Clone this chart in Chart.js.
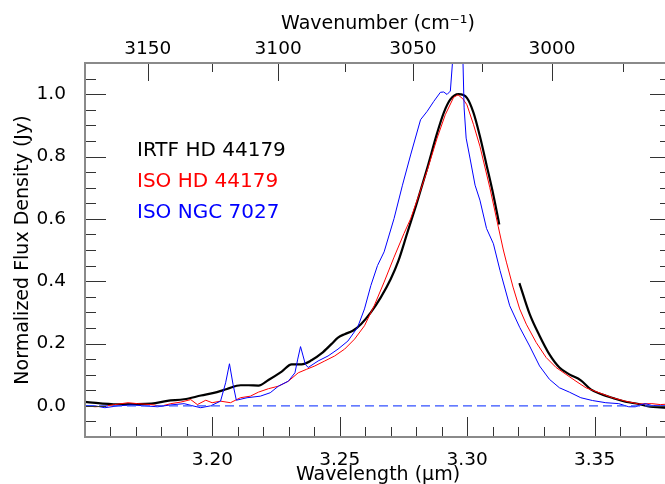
<!DOCTYPE html>
<html>
<head>
<meta charset="utf-8">
<script src="https://cdn.jsdelivr.net/npm/chart.js@4/dist/chart.umd.min.js"></script>
<style>
  html, body { margin: 0; padding: 0; background: #fff; overflow: hidden; }
  #wrap { width: 675px; height: 484px; }
</style>
</head>
<body>
<div id="wrap"><canvas id="spec" width="675" height="484"></canvas></div>
<script>
// IRTF HD 44179 (thick black, gap near 3.316 um)
const irtfWave = [3.1500,3.1628,3.1761,3.1823,3.1889,3.1955,3.2018,3.2057,3.2111,3.2142,3.2181,3.2220,3.2272,3.2311,3.2350,3.2389,3.2428,3.2467,3.2493,3.2519,3.2551,3.2583,3.2622,3.2661,3.2700,3.2730,3.2765,3.2804,3.2843,3.2882,3.2908,3.2934,3.2966,3.2999,3.3025,3.3050,3.3076,3.3103,3.3126,3.3165,3.3205,3.3245,3.3284,3.3323,3.3362,3.3401,3.3446,3.3485,3.3531,3.3576,3.3621,3.3673,3.3719,3.3758,3.3800];
const irtfFlux = [0.013,0.005,0.007,0.016,0.021,0.033,0.044,0.054,0.066,0.066,0.065,0.083,0.110,0.133,0.133,0.146,0.168,0.198,0.219,0.230,0.241,0.262,0.300,0.348,0.407,0.465,0.555,0.655,0.762,0.875,0.940,0.983,1.000,0.988,0.940,0.865,0.773,0.676,0.582,null,0.394,0.295,0.225,0.165,0.123,0.101,0.082,0.053,0.036,0.024,0.013,0.006,-0.003,-0.005,-0.007];

// ISO HD 44179 (red)
const isoWave = [3.1500,3.1539,3.1578,3.1617,3.1669,3.1707,3.1760,3.1799,3.1837,3.1876,3.1915,3.1941,3.1974,3.1999,3.2032,3.2071,3.2110,3.2149,3.2181,3.2220,3.2259,3.2298,3.2337,3.2369,3.2402,3.2441,3.2480,3.2519,3.2558,3.2597,3.2635,3.2674,3.2713,3.2752,3.2778,3.2810,3.2843,3.2882,3.2914,3.2947,3.2964,3.2983,3.2999,3.3025,3.3050,3.3089,3.3122,3.3142,3.3154,3.3180,3.3206,3.3232,3.3271,3.3310,3.3349,3.3388,3.3427,3.3466,3.3518,3.3570,3.3621,3.3673,3.3725,3.3758,3.3800];
const isoFlux = [0.001,-0.003,-0.001,0.004,0.010,0.007,0.004,-0.001,0.007,0.012,0.020,0.004,0.018,0.010,0.015,0.010,0.026,0.031,0.044,0.055,0.063,0.079,0.106,0.117,0.128,0.144,0.160,0.182,0.214,0.257,0.321,0.397,0.477,0.553,0.600,0.675,0.755,0.859,0.934,0.990,0.998,0.985,0.966,0.902,0.833,0.700,0.575,0.500,0.461,0.381,0.311,0.262,0.203,0.155,0.123,0.101,0.079,0.058,0.042,0.026,0.015,0.006,0.007,0.004,0.006];

// ISO NGC 7027 (blue)
const ngcWave = [3.1500,3.1539,3.1578,3.1630,3.1682,3.1734,3.1785,3.1837,3.1889,3.1928,3.1954,3.1993,3.2032,3.2052,3.2067,3.2081,3.2094,3.2136,3.2188,3.2227,3.2259,3.2298,3.2324,3.2335,3.2346,3.2356,3.2365,3.2376,3.2415,3.2454,3.2493,3.2532,3.2570,3.2597,3.2622,3.2648,3.2674,3.2713,3.2746,3.2778,3.2817,3.2843,3.2869,3.2895,3.2908,3.2921,3.2934,3.2944,3.2954,3.2964,3.2974,3.2983,3.2988,3.2996,3.3011,3.3031,3.3050,3.3076,3.3103,3.3129,3.3167,3.3206,3.3245,3.3284,3.3323,3.3362,3.3401,3.3446,3.3492,3.3544,3.3595,3.3634,3.3660,3.3679,3.3699,3.3725,3.3758,3.3800];
const ngcFlux = [0.001,0.000,-0.006,0.000,0.003,0.000,-0.003,0.003,0.007,-0.001,-0.006,0.000,0.015,0.074,0.135,0.069,0.018,0.026,0.031,0.042,0.063,0.079,0.106,0.150,0.190,0.160,0.133,0.123,0.144,0.160,0.182,0.208,0.252,0.311,0.386,0.450,0.494,0.601,0.708,0.805,0.918,0.945,0.977,1.006,1.007,0.999,1.010,1.120,1.400,1.600,1.400,1.120,0.956,0.859,0.795,0.708,0.660,0.569,0.520,0.434,0.321,0.252,0.192,0.128,0.085,0.058,0.044,0.026,0.017,0.010,0.007,-0.003,-0.003,0.003,0.007,0.001,0.000,0.000];

const zeroWave = [3.15, 3.38];
const zeroFlux = [0, 0];

// top axis, cm^-1 (labelled every 50)
const waveNumberTicks = [3150, 3125, 3100, 3075, 3050, 3025, 3000, 2975];
const legendNames = ['IRTF HD 44179', 'ISO HD 44179', 'ISO NGC 7027'];
const legendColors = ['#000000', '#ff0000', '#0000ff'];

const xMin = 3.15, xMax = 3.38, yMin = -0.1, yMax = 1.1;
const FONT = '"DejaVu Sans", "Liberation Sans", sans-serif';

function pts(xs, ys) {
  return xs.map((x, i) => ({x: x, y: ys[i]}));
}
function onStep(v, step) {
  const r = v / step;
  return Math.abs(r - Math.round(r)) < 1e-6;
}

Chart.defaults.font.family = FONT;
Chart.defaults.color = '#000';

const axesPlugin = {
  id: 'axesPlugin',
  afterDatasetsDraw(chart) {
    const ctx = chart.ctx, a = chart.chartArea, s = chart.scales;
    ctx.save();
    // tick marks, drawn inwards
    ctx.strokeStyle = '#333';
    ctx.lineWidth = 1;
    ctx.beginPath();
    s.x.ticks.forEach(t => {
      if (t.value <= xMin + 1e-6 || t.value >= xMax - 1e-6) return;
      const px = Math.round(s.x.getPixelForValue(t.value)) + 0.5;
      const len = onStep(t.value, 0.05) ? 20 : 10;
      ctx.moveTo(px, a.bottom);
      ctx.lineTo(px, a.bottom - len);
    });
    s.xTop.ticks.forEach(t => {
      const px = Math.round(s.xTop.getPixelForValue(t.value)) + 0.5;
      const len = Math.round(1e4 / t.value) % 50 === 0 ? 18 : 9;
      ctx.moveTo(px, a.top);
      ctx.lineTo(px, a.top + len);
    });
    s.y.ticks.forEach(t => {
      if (t.value <= yMin + 1e-6 || t.value >= yMax - 1e-6) return;
      const py = Math.round(s.y.getPixelForValue(t.value)) + 0.5;
      const len = onStep(t.value, 0.2) ? 21 : 11;
      ctx.moveTo(a.left, py);
      ctx.lineTo(a.left + len, py);
      ctx.moveTo(a.right, py);
      ctx.lineTo(a.right - len, py);
    });
    ctx.stroke();
    // frame
    ctx.strokeStyle = '#8a8a8a';
    ctx.lineWidth = 2;
    ctx.strokeRect(a.left, a.top, a.right - a.left, a.bottom - a.top);
    // text legend
    ctx.font = '20px ' + FONT;
    ctx.textBaseline = 'middle';
    ctx.textAlign = 'left';
    legendNames.forEach((name, i) => {
      ctx.fillStyle = legendColors[i];
      ctx.fillText(name, a.left + 52, a.top + 88 + i * 31);
    });
    ctx.restore();
  }
};

new Chart(document.getElementById('spec'), {
  type: 'line',
  data: {
    datasets: [
      {
        label: 'zero',
        data: pts(zeroWave, zeroFlux),
        borderColor: 'rgb(50,80,255)',
        borderWidth: 1.3,
        borderDash: [9, 5]
      },
      {
        label: legendNames[2],
        data: pts(ngcWave, ngcFlux),
        borderColor: '#0000ff',
        borderWidth: 1
      },
      {
        label: legendNames[1],
        data: pts(isoWave, isoFlux),
        borderColor: '#ff0000',
        borderWidth: 1
      },
      {
        label: legendNames[0],
        data: pts(irtfWave, irtfFlux),
        borderColor: '#000000',
        borderWidth: 2.2,
        cubicInterpolationMode: 'monotone',
        spanGaps: false
      }
    ]
  },
  options: {
    responsive: false,
    animation: false,
    devicePixelRatio: 1,
    layout: {padding: {left: 0, right: 0, top: 0, bottom: 0}},
    elements: {
      point: {radius: 0},
      line: {tension: 0, fill: false, borderJoinStyle: 'round'}
    },
    plugins: {
      legend: {display: false},
      tooltip: {enabled: false}
    },
    scales: {
      x: {
        type: 'linear',
        position: 'bottom',
        min: xMin,
        max: xMax,
        afterFit: sc => { sc.height = 47; },
        grid: {display: false},
        border: {display: false},
        ticks: {
          stepSize: 0.01,
          autoSkip: false,
          maxRotation: 0,
          padding: 4,
          font: {size: 18.5},
          color: '#000',
          callback: v => (onStep(v, 0.05) && v > xMin + 1e-6 && v < xMax - 1e-6) ? v.toFixed(2) : ''
        },
        title: {
          display: true,
          text: 'Wavelength (\u03bcm)',
          font: {size: 19},
          color: '#000',
          padding: {top: 0, bottom: -2}
        }
      },
      xTop: {
        type: 'linear',
        position: 'top',
        display: true,
        min: xMin,
        max: xMax,
        afterBuildTicks: sc => { sc.ticks = waveNumberTicks.map(w => ({value: 1e4 / w})); },
        afterFit: sc => { sc.height = 63; },
        grid: {display: false},
        border: {display: false},
        ticks: {
          autoSkip: false,
          maxRotation: 0,
          padding: -5,
          font: {size: 18.5},
          color: '#000',
          callback: v => {
            const w = Math.round(1e4 / v);
            return w % 50 === 0 ? String(w) : '';
          }
        },
        title: {
          display: true,
          text: 'Wavenumber (cm\u207b\u00b9)',
          font: {size: 19},
          color: '#000',
          padding: {top: 13, bottom: 0}
        }
      },
      y: {
        min: yMin,
        max: yMax,
        afterFit: sc => { sc.width = 85; },
        grid: {display: false},
        border: {display: false},
        ticks: {
          stepSize: 0.05,
          autoSkip: false,
          padding: 11,
          font: {size: 18.5},
          color: '#000',
          callback: v => (onStep(v, 0.2) && v > -1e-6 && v < 1.0 + 1e-6) ? (Math.abs(v) < 1e-6 ? 0 : v).toFixed(1) : ''
        },
        title: {
          display: true,
          text: 'Normalized Flux Density (Jy)',
          font: {size: 19},
          color: '#000',
          padding: {top: 12, bottom: 0}
        }
      }
    }
  },
  plugins: [axesPlugin]
});
</script>
</body>
</html>
